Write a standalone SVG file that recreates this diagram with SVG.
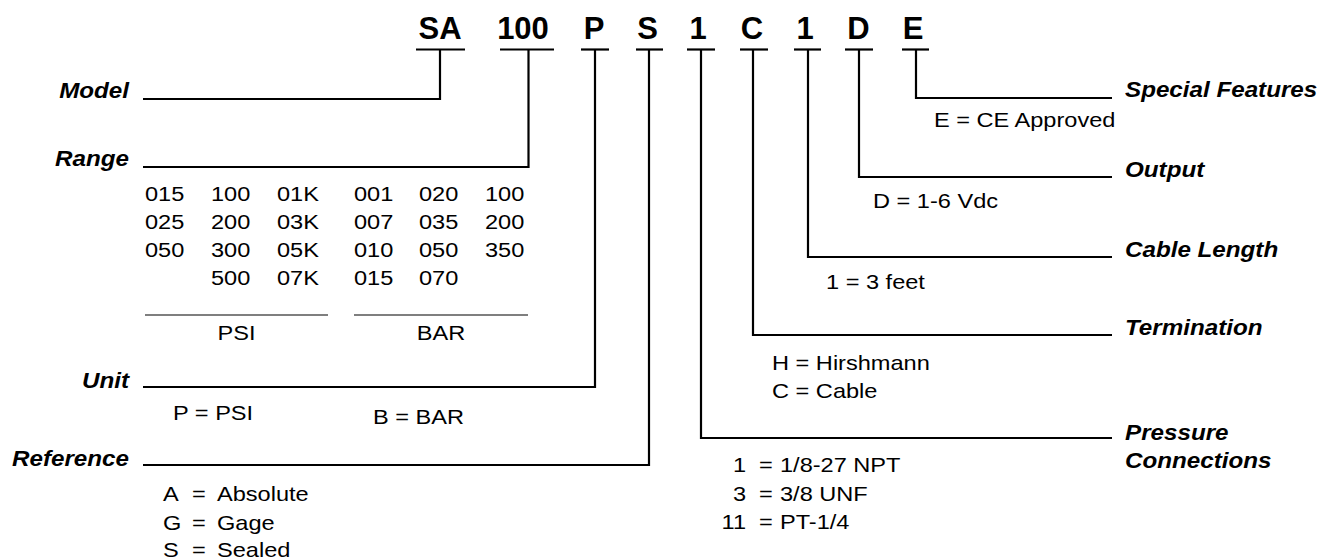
<svg xmlns="http://www.w3.org/2000/svg" width="1321" height="559" viewBox="0 0 1321 559">
<style>
.t{font-family:"Liberation Sans",Arial,sans-serif;font-weight:bold;font-size:31px;text-anchor:middle;fill:#000}
.b{font-family:"Liberation Sans",Arial,sans-serif;font-weight:bold;font-style:italic;font-size:22px;fill:#000}
.e{text-anchor:end}
.m{text-anchor:middle}
.r{font-family:"Liberation Sans",Arial,sans-serif;font-size:20.5px;fill:#000}
.ln{stroke:#000;stroke-width:2.2;fill:none;stroke-linejoin:miter;stroke-linecap:butt}
.bar{stroke:#000;stroke-width:2.2}
.thin{stroke:#000;stroke-width:1.2}
</style>
<rect width="1321" height="559" fill="#fff"/>

<g id="code">
<text class="t" x="440" y="38.5">SA</text>
<text class="t" x="523" y="38.5">100</text>
<text class="t" x="594" y="38.5">P</text>
<text class="t" x="647.5" y="38.5">S</text>
<text class="t" x="698" y="38.5">1</text>
<text class="t" x="752" y="38.5">C</text>
<text class="t" x="805" y="38.5">1</text>
<text class="t" x="858.5" y="38.5">D</text>
<text class="t" x="913" y="38.5">E</text>
<line class="bar" x1="416" y1="49.5" x2="465" y2="49.5"/>
<line class="bar" x1="500" y1="49.5" x2="554" y2="49.5"/>
<line class="bar" x1="581" y1="49.5" x2="609" y2="49.5"/>
<line class="bar" x1="636" y1="49.5" x2="663" y2="49.5"/>
<line class="bar" x1="687" y1="49.5" x2="715" y2="49.5"/>
<line class="bar" x1="740" y1="49.5" x2="768" y2="49.5"/>
<line class="bar" x1="794" y1="49.5" x2="821" y2="49.5"/>
<line class="bar" x1="845" y1="49.5" x2="873" y2="49.5"/>
<line class="bar" x1="902" y1="49.5" x2="929" y2="49.5"/>
</g>

<g id="connectors">
<polyline class="ln" points="440,49.5 440,99 143,99"/>
<polyline class="ln" points="528.5,49.5 528.5,167 143,167"/>
<polyline class="ln" points="595,49.5 595,387 143,387"/>
<polyline class="ln" points="649,49.5 649,465 143,465"/>
<polyline class="ln" points="701,49.5 701,438 1112,438"/>
<polyline class="ln" points="753,49.5 753,335 1112,335"/>
<polyline class="ln" points="808,49.5 808,257 1112,257"/>
<polyline class="ln" points="859,49.5 859,177 1112,177"/>
<polyline class="ln" points="916,49.5 916,98 1112,98"/>
</g>

<g id="model">
<text class="b e" transform="matrix(1.1 0 0 1 129 98)">Model</text>
</g>

<g id="range">
<text class="b e" transform="matrix(1.1 0 0 1 129 166)">Range</text>
<g id="range-table">
<text class="r" transform="matrix(1.15 0 0 1 145 201)">015</text>
<text class="r" transform="matrix(1.15 0 0 1 211 201)">100</text>
<text class="r" transform="matrix(1.15 0 0 1 277 201)">01K</text>
<text class="r" transform="matrix(1.15 0 0 1 354 201)">001</text>
<text class="r" transform="matrix(1.15 0 0 1 419 201)">020</text>
<text class="r" transform="matrix(1.15 0 0 1 485 201)">100</text>
<text class="r" transform="matrix(1.15 0 0 1 145 229)">025</text>
<text class="r" transform="matrix(1.15 0 0 1 211 229)">200</text>
<text class="r" transform="matrix(1.15 0 0 1 277 229)">03K</text>
<text class="r" transform="matrix(1.15 0 0 1 354 229)">007</text>
<text class="r" transform="matrix(1.15 0 0 1 419 229)">035</text>
<text class="r" transform="matrix(1.15 0 0 1 485 229)">200</text>
<text class="r" transform="matrix(1.15 0 0 1 145 257)">050</text>
<text class="r" transform="matrix(1.15 0 0 1 211 257)">300</text>
<text class="r" transform="matrix(1.15 0 0 1 277 257)">05K</text>
<text class="r" transform="matrix(1.15 0 0 1 354 257)">010</text>
<text class="r" transform="matrix(1.15 0 0 1 419 257)">050</text>
<text class="r" transform="matrix(1.15 0 0 1 485 257)">350</text>
<text class="r" transform="matrix(1.15 0 0 1 211 285)">500</text>
<text class="r" transform="matrix(1.15 0 0 1 277 285)">07K</text>
<text class="r" transform="matrix(1.15 0 0 1 354 285)">015</text>
<text class="r" transform="matrix(1.15 0 0 1 419 285)">070</text>
<line class="thin" x1="145" y1="315" x2="328" y2="315"/>
<line class="thin" x1="354" y1="315" x2="528" y2="315"/>
<text class="r m" transform="matrix(1.15 0 0 1 236.5 340)">PSI</text>
<text class="r m" transform="matrix(1.15 0 0 1 441 340)">BAR</text>
</g>
</g>

<g id="unit">
<text class="b e" transform="matrix(1.1 0 0 1 129 388)">Unit</text>
<text class="r" transform="matrix(1.15 0 0 1 173 420)">P = PSI</text>
<text class="r" transform="matrix(1.15 0 0 1 373 424)">B = BAR</text>
</g>

<g id="reference">
<text class="b e" transform="matrix(1.1 0 0 1 129 466)">Reference</text>
<text class="r" transform="matrix(1.15 0 0 1 163 501)">A</text>
<text class="r" transform="matrix(1.15 0 0 1 192 501)">=</text>
<text class="r" transform="matrix(1.15 0 0 1 217 501)">Absolute</text>
<text class="r" transform="matrix(1.15 0 0 1 163 529.5)">G</text>
<text class="r" transform="matrix(1.15 0 0 1 192 529.5)">=</text>
<text class="r" transform="matrix(1.15 0 0 1 217 529.5)">Gage</text>
<text class="r" transform="matrix(1.15 0 0 1 163 557)">S</text>
<text class="r" transform="matrix(1.15 0 0 1 192 557)">=</text>
<text class="r" transform="matrix(1.15 0 0 1 217 557)">Sealed</text>
</g>

<g id="special-features">
<text class="b" transform="matrix(1.1 0 0 1 1125 97)">Special Features</text>
<text class="r" transform="matrix(1.15 0 0 1 934 127)">E = CE Approved</text>
</g>

<g id="output">
<text class="b" transform="matrix(1.1 0 0 1 1125 177)">Output</text>
<text class="r" transform="matrix(1.15 0 0 1 873 208)">D = 1-6 Vdc</text>
</g>

<g id="cable-length">
<text class="b" transform="matrix(1.1 0 0 1 1125 257)">Cable Length</text>
<text class="r" transform="matrix(1.15 0 0 1 826 289)">1 = 3 feet</text>
</g>

<g id="termination">
<text class="b" transform="matrix(1.1 0 0 1 1125 335)">Termination</text>
<text class="r" transform="matrix(1.15 0 0 1 772 370)">H = Hirshmann</text>
<text class="r" transform="matrix(1.15 0 0 1 772 398)">C = Cable</text>
</g>

<g id="pressure-connections">
<text class="b" transform="matrix(1.1 0 0 1 1125 440)">Pressure</text>
<text class="b" transform="matrix(1.1 0 0 1 1125 468)">Connections</text>
<text class="r e" transform="matrix(1.15 0 0 1 746 472)">1</text>
<text class="r" transform="matrix(1.15 0 0 1 759 472)">=</text>
<text class="r" transform="matrix(1.15 0 0 1 780 472)">1/8-27 NPT</text>
<text class="r e" transform="matrix(1.15 0 0 1 746 500.5)">3</text>
<text class="r" transform="matrix(1.15 0 0 1 759 500.5)">=</text>
<text class="r" transform="matrix(1.15 0 0 1 780 500.5)">3/8 UNF</text>
<text class="r e" transform="matrix(1.15 0 0 1 746 529)">11</text>
<text class="r" transform="matrix(1.15 0 0 1 759 529)">=</text>
<text class="r" transform="matrix(1.15 0 0 1 780 529)">PT-1/4</text>
</g>
</svg>
